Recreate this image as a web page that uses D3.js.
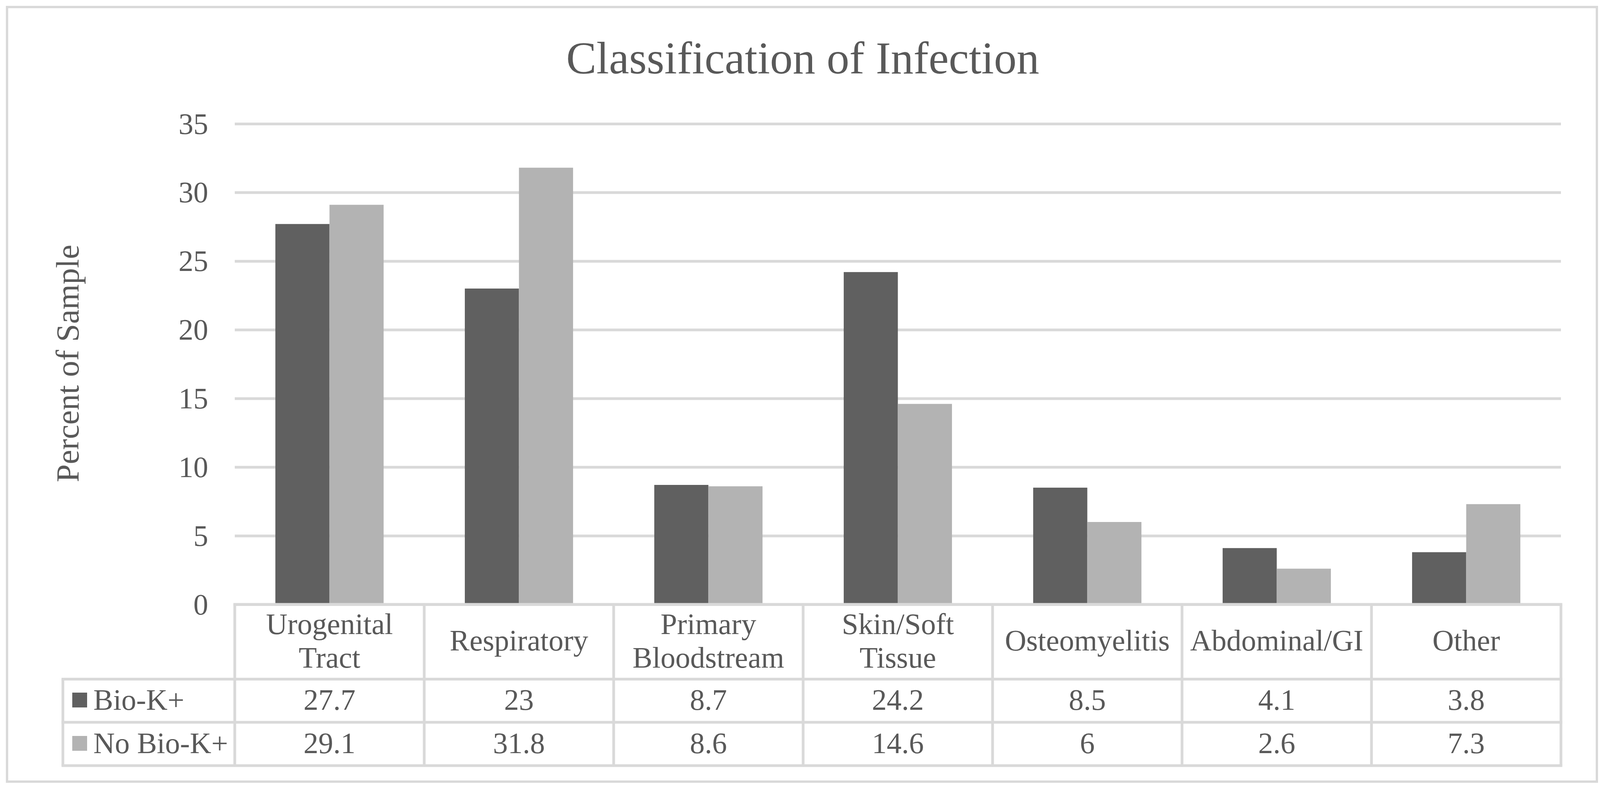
<!DOCTYPE html>
<html>
<head>
<meta charset="utf-8">
<script src="https://cdn.jsdelivr.net/npm/d3@7"></script>
<style>
  body { margin: 0; background: #fff; }
  text { font-family: "Liberation Serif", "Times New Roman", serif; fill: #595959; }
</style>
</head>
<body>
<div id="chart-area"></div>
<script>
// data
var categories = ["Urogenital Tract", "Respiratory", "Primary Bloodstream", "Skin/Soft Tissue", "Osteomyelitis", "Abdominal/GI", "Other"];
var categoryLines = [["Urogenital", "Tract"], ["Respiratory"], ["Primary", "Bloodstream"], ["Skin/Soft", "Tissue"], ["Osteomyelitis"], ["Abdominal/GI"], ["Other"]];
var seriesNames = ["Bio-K+", "No Bio-K+"];
var bioK = [27.7, 23, 8.7, 24.2, 8.5, 4.1, 3.8];
var noBioK = [29.1, 31.8, 8.6, 14.6, 6, 2.6, 7.3];
var yTicks = [0, 5, 10, 15, 20, 25, 30, 35];
var colors = ["#606060", "#b3b3b3"];

var W = 4107, H = 2026;
var plotLeft = 601, plotRight = 3996, plotTop = 317, plotBottom = 1548;
var gridColor = "#d9d9d9";

var svg = d3.select("#chart-area").append("svg")
  .attr("width", W)
  .attr("height", H);

// chart border
svg.append("rect")
  .attr("x", 18).attr("y", 18)
  .attr("width", 4088 - 18).attr("height", 2002 - 18)
  .attr("fill", "#fff")
  .attr("stroke", gridColor)
  .attr("stroke-width", 6);

// title
svg.append("text")
  .attr("x", 2055).attr("y", 188)
  .attr("text-anchor", "middle")
  .style("font-size", "116px")
  .text("Classification of Infection");

// scales
var y = d3.scaleLinear().domain([0, 35]).range([plotBottom, plotTop]);

var x0 = d3.scaleBand()
  .domain(categories)
  .range([plotLeft, plotRight])
  .paddingInner(0.4286)
  .paddingOuter(0.2143);

var x1 = d3.scaleBand()
  .domain(seriesNames)
  .range([0, x0.bandwidth()]);

var cols = d3.scaleBand()
  .domain(categories)
  .range([plotLeft, plotRight]);

// y axis + gridlines
var yAxis = d3.axisLeft(y)
  .tickValues(yTicks)
  .tickSize(-(plotRight - plotLeft))
  .tickPadding(68);

var gy = svg.append("g")
  .attr("transform", "translate(" + plotLeft + ",0)")
  .call(yAxis);
gy.select(".domain").remove();
gy.selectAll(".tick line").attr("stroke", gridColor).attr("stroke-width", 7);
gy.selectAll(".tick text")
  .attr("fill", "#595959")
  .style("font-size", "76px")
  .style("font-family", "'Liberation Serif', 'Times New Roman', serif")
  .attr("dy", "0.33em");

// y axis title
svg.append("text")
  .attr("transform", "translate(201,931) rotate(-90)")
  .attr("text-anchor", "middle")
  .style("font-size", "83px")
  .text("Percent of Sample");

// bars
var rows = categories.map(function (c, i) {
  return { cat: c, values: [bioK[i], noBioK[i]] };
});

svg.append("g").selectAll("g")
  .data(rows)
  .join("g")
  .attr("transform", function (d) { return "translate(" + x0(d.cat) + ",0)"; })
  .selectAll("rect")
  .data(function (d) { return d.values.map(function (v, j) { return { s: seriesNames[j], v: v, j: j }; }); })
  .join("rect")
  .attr("x", function (d) { return x1(d.s); })
  .attr("y", function (d) { return y(d.v); })
  .attr("width", x1.bandwidth())
  .attr("height", function (d) { return y(0) - y(d.v); })
  .attr("fill", function (d) { return colors[d.j]; });

// data table
var headerBottom = 1739.5, rowMid = 1850, tableBottom = 1961, legendLeft = 161;
var table = svg.append("g")
  .attr("stroke", gridColor)
  .attr("stroke-width", 7);

table.append("line").attr("x1", plotLeft - 3.5).attr("x2", plotRight + 3.5).attr("y1", plotBottom).attr("y2", plotBottom);
[headerBottom, rowMid, tableBottom].forEach(function (yy) {
  table.append("line").attr("x1", legendLeft - 3.5).attr("x2", plotRight + 3.5).attr("y1", yy).attr("y2", yy);
});
table.append("line").attr("x1", legendLeft).attr("x2", legendLeft).attr("y1", headerBottom).attr("y2", tableBottom);
categories.concat(["end"]).forEach(function (c, i) {
  var xx = i < categories.length ? cols(c) : plotRight;
  table.append("line").attr("x1", xx).attr("x2", xx).attr("y1", plotBottom).attr("y2", tableBottom);
});

// header labels
svg.append("g").selectAll("text")
  .data(categories)
  .join("text")
  .attr("x", function (d) { return cols(d) + cols.bandwidth() / 2; })
  .attr("y", function (d, i) { return categoryLines[i].length > 1 ? 1624 : 1666; })
  .attr("text-anchor", "middle")
  .style("font-size", "76px")
  .selectAll("tspan")
  .data(function (d, i) { return categoryLines[i]; })
  .join("tspan")
  .attr("x", function () { return d3.select(this.parentNode).attr("x"); })
  .attr("dy", function (d, i) { return i === 0 ? 0 : 86; })
  .text(function (d) { return d; });

// value rows
var rowBaselines = [1818, 1929];
[bioK, noBioK].forEach(function (vals, j) {
  svg.append("rect")
    .attr("x", 185).attr("y", rowBaselines[j] - 44)
    .attr("width", 38).attr("height", 38)
    .attr("fill", colors[j]);
  svg.append("text")
    .attr("x", 239).attr("y", rowBaselines[j])
    .style("font-size", "76px")
    .text(seriesNames[j]);
  svg.append("g").selectAll("text")
    .data(vals)
    .join("text")
    .attr("x", function (d, i) { return cols(categories[i]) + cols.bandwidth() / 2; })
    .attr("y", rowBaselines[j])
    .attr("text-anchor", "middle")
    .style("font-size", "76px")
    .text(function (d) { return d; });
});
</script>
</body>
</html>
